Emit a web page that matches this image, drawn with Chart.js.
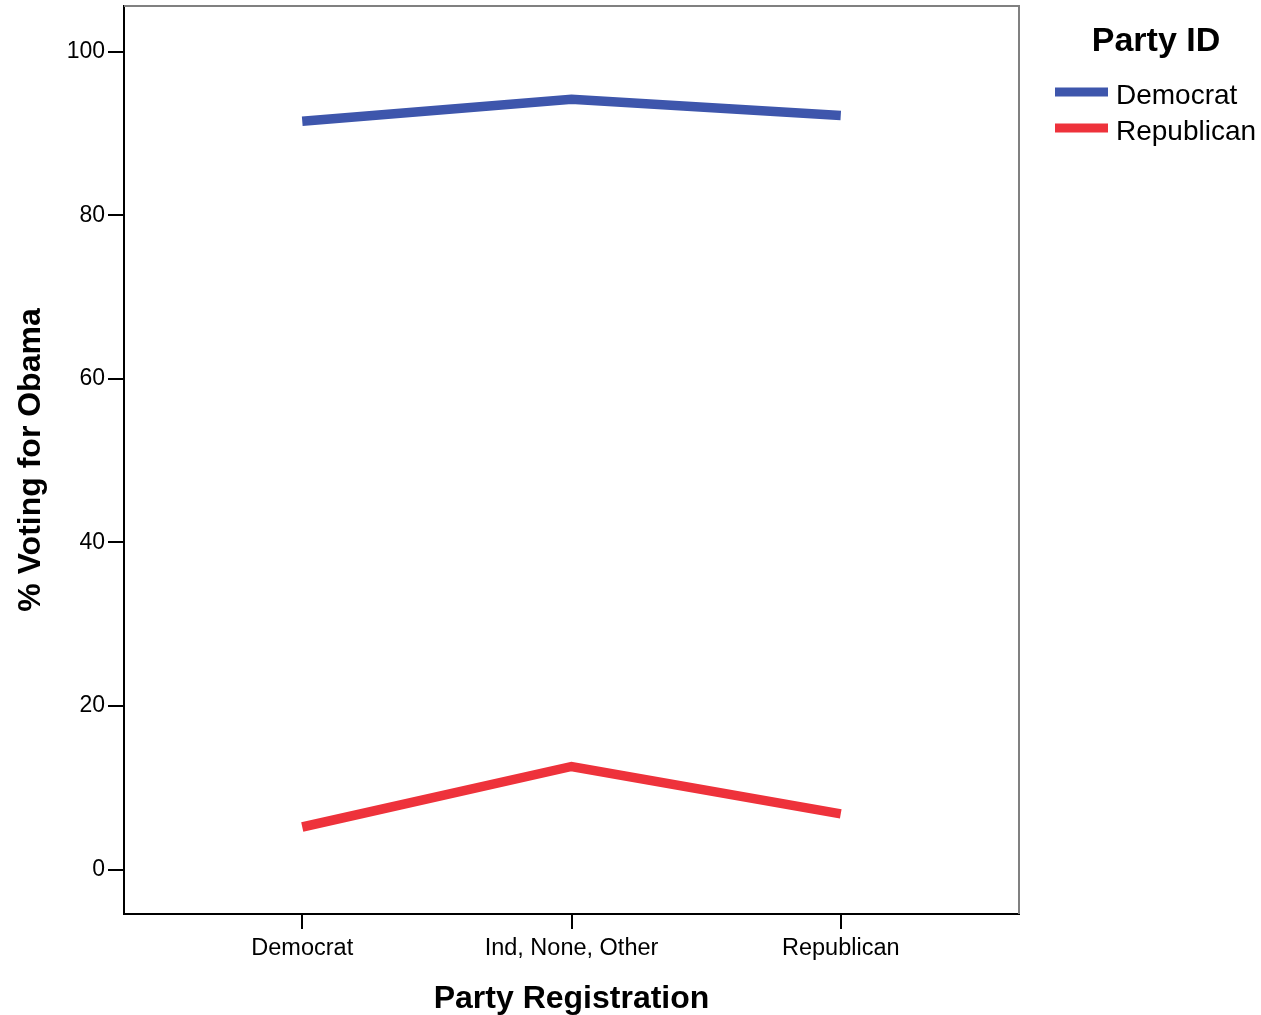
<!DOCTYPE html>
<html>
<head>
<meta charset="utf-8">
<script src="https://cdn.jsdelivr.net/npm/chart.js@4/dist/chart.umd.min.js"></script>
<style>
  html, body { margin: 0; padding: 0; background: #fff; }
  #wrap { width: 1261px; height: 1015px; }
</style>
</head>
<body>
<div id="wrap"><canvas id="c" width="1261" height="1015"></canvas></div>
<script>
// ---- Data ----
const categories = ['Democrat', 'Ind, None, Other', 'Republican'];
const democratValues = [91.5, 94.2, 92.2];
const republicanValues = [5.2, 12.6, 6.8];
const seriesNames = ['Democrat', 'Republican'];
const yTicks = [0, 20, 40, 60, 80, 100];
const legendTitle = 'Party ID';
const xTitle = 'Party Registration';
const yTitle = '% Voting for Obama';

const FONT = "'Liberation Sans', Arial, sans-serif";
const BLUE = '#3e56ac';
const RED = '#ee323b';

const toPoints = vals => vals.map((v, i) => ({ x: i, y: v }));

const framePlugin = {
  id: 'frame',
  afterDraw(chart) {
    const { ctx, chartArea: a } = chart;
    ctx.save();
    ctx.strokeStyle = '#808080';
    ctx.lineWidth = 2;
    ctx.beginPath();
    ctx.moveTo(a.left, a.top);
    ctx.lineTo(a.right, a.top);
    ctx.lineTo(a.right, a.bottom);
    ctx.stroke();
    ctx.restore();
  }
};

const legendPlugin = {
  id: 'customLegend',
  afterDraw(chart) {
    const { ctx } = chart;
    ctx.save();
    ctx.fillStyle = '#000';
    ctx.textBaseline = 'middle';
    ctx.textAlign = 'center';
    ctx.font = 'bold 34px ' + FONT;
    ctx.fillText(legendTitle, 1156, 42);
    ctx.textAlign = 'left';
    ctx.font = '28px ' + FONT;
    const rows = [92, 128];
    chart.data.datasets.forEach((ds, i) => {
      const y = rows[i];
      ctx.strokeStyle = ds.borderColor;
      ctx.lineWidth = 9;
      ctx.lineCap = 'butt';
      ctx.beginPath();
      ctx.moveTo(1055, y);
      ctx.lineTo(1108, y);
      ctx.stroke();
      ctx.fillStyle = '#000';
      ctx.fillText(ds.label, 1116, y + 4);
    });
    ctx.restore();
  }
};

new Chart(document.getElementById('c'), {
  type: 'line',
  data: {
    datasets: [
      { label: seriesNames[0], data: toPoints(democratValues), borderColor: BLUE, backgroundColor: BLUE,
        borderWidth: 9.5, pointRadius: 0, borderCapStyle: 'butt', borderJoinStyle: 'miter', tension: 0 },
      { label: seriesNames[1], data: toPoints(republicanValues), borderColor: RED, backgroundColor: RED,
        borderWidth: 9.5, pointRadius: 0, borderCapStyle: 'butt', borderJoinStyle: 'miter', tension: 0 }
    ]
  },
  options: {
    responsive: false,
    animation: false,
    events: [],
    layout: { padding: { top: 6, right: 242, left: 0, bottom: 0 } },
    plugins: { legend: { display: false }, tooltip: { enabled: false }, title: { display: false } },
    scales: {
      x: {
        type: 'linear',
        min: -0.662,
        max: 2.662,
        afterBuildTicks: s => { s.ticks = categories.map((c, i) => ({ value: i })); },
        afterFit: s => { s.height = 101; s.paddingLeft = 0; s.paddingRight = 0; },
        ticks: {
          autoSkip: false, maxRotation: 0, color: '#000', padding: 5,
          font: { family: FONT, size: 23.5 },
          callback: v => categories[v]
        },
        grid: { drawOnChartArea: false, tickLength: 15, color: '#000', lineWidth: 2 },
        border: { color: '#000', width: 2 },
        title: { display: true, text: xTitle, color: '#000',
                 font: { family: FONT, size: 32, weight: 'bold', lineHeight: 1.0 },
                 padding: { top: 0, bottom: 0 } }
      },
      y: {
        type: 'linear',
        min: -5.44,
        max: 105.6,
        afterBuildTicks: s => { s.ticks = yTicks.map(v => ({ value: v })); },
        afterFit: s => { s.width = 124; s.paddingTop = 0; s.paddingBottom = 0; },
        ticks: { color: '#000', padding: 3, font: { family: FONT, size: 23 } },
        grid: { drawOnChartArea: false, tickLength: 16, color: '#000', lineWidth: 2 },
        border: { color: '#000', width: 2 },
        title: { display: true, text: yTitle, color: '#000',
                 font: { family: FONT, size: 32, weight: 'bold', lineHeight: 1.2 },
                 padding: { top: 12, bottom: 0 } }
      }
    }
  },
  plugins: [framePlugin, legendPlugin]
});
</script>
</body>
</html>
